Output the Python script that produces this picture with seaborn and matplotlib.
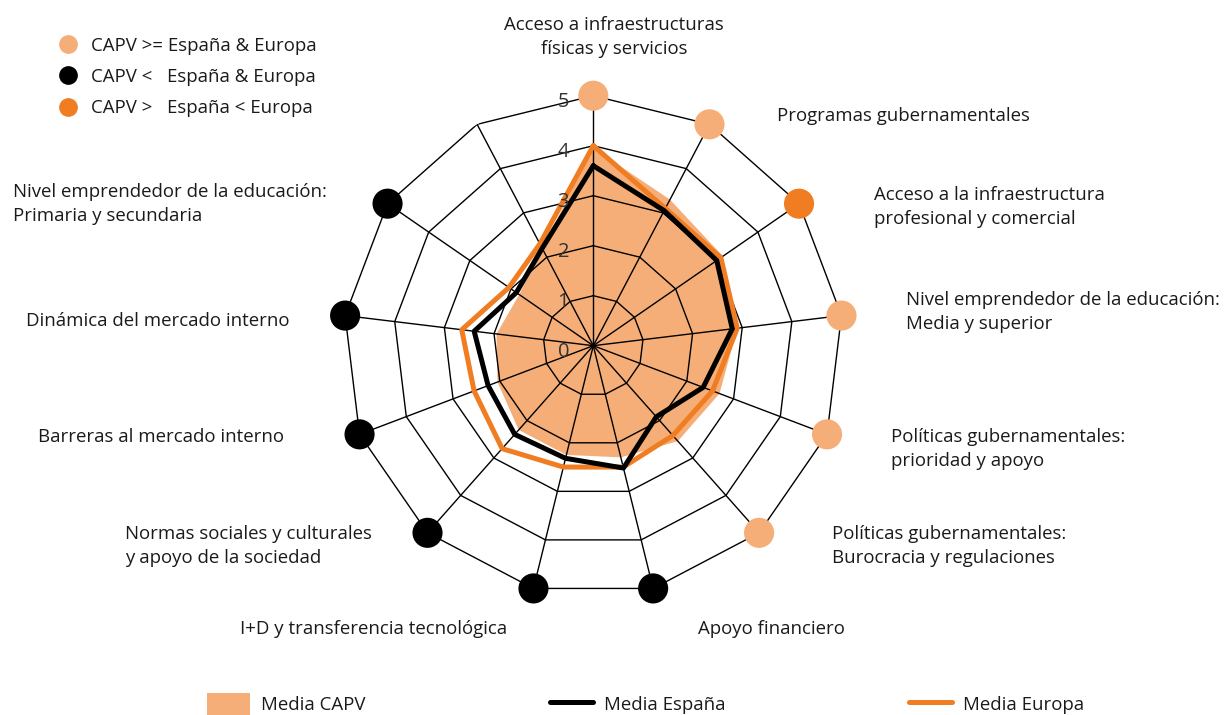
import numpy as np
import pandas as pd
import matplotlib
matplotlib.use("Agg")
import matplotlib.pyplot as plt
from matplotlib.lines import Line2D
from matplotlib.patches import Patch
import seaborn as sns

# Ejes del radar (sentido horario desde arriba); el último eje no tiene etiqueta
categorias = [
    "Acceso a infraestructuras\nfísicas y servicios",
    "Programas gubernamentales",
    "Acceso a la infraestructura\nprofesional y comercial",
    "Nivel emprendedor de la educación:\nMedia y superior",
    "Políticas gubernamentales:\nprioridad y apoyo",
    "Políticas gubernamentales:\nBurocracia y regulaciones",
    "Apoyo financiero",
    "I+D y transferencia tecnológica",
    "Normas sociales y culturales\ny apoyo de la sociedad",
    "Barreras al mercado interno",
    "Dinámica del mercado interno",
    "Nivel emprendedor de la educación:\nPrimaria y secundaria",
    "",
]
media_capv = [3.95, 3.30, 3.15, 2.90, 2.70, 2.55, 2.30, 2.25, 2.25, 2.05, 1.95, 1.80, 2.20]
media_espana = [3.60, 3.05, 3.00, 2.80, 2.35, 1.90, 2.52, 2.32, 2.37, 2.25, 2.40, 1.87, 2.20]
media_europa = [4.00, 3.10, 3.10, 2.90, 2.55, 2.40, 2.50, 2.50, 2.75, 2.55, 2.65, 2.05, 2.30]
# grupo de comparación de cada eje (marcador exterior)
grupo = ["CAPV >= España & Europa", "CAPV >= España & Europa", "CAPV >   España < Europa",
         "CAPV >= España & Europa", "CAPV >= España & Europa", "CAPV >= España & Europa",
         "CAPV <   España & Europa", "CAPV <   España & Europa", "CAPV <   España & Europa",
         "CAPV <   España & Europa", "CAPV <   España & Europa", "CAPV <   España & Europa",
         ""]
niveles = [0, 1, 2, 3, 4, 5]

C_CLARO = "#F6AE78"
C_NARANJA = "#F07D22"
colores_grupo = {
    "CAPV >= España & Europa": C_CLARO,
    "CAPV <   España & Europa": "black",
    "CAPV >   España < Europa": C_NARANJA,
}

# posición de las etiquetas (px de la figura): x, y, alineación
pos_etiquetas = [
    (614, 37, "center"), (777, 116, "left"), (874, 207, "left"), (906, 312, "left"),
    (891, 449, "left"), (832, 546, "left"), (698, 629, "left"), (507, 629, "right"),
    (125, 546, "left"), (284, 437, "right"), (290, 321, "right"), (13, 204, "left"),
]

W, H = 1224, 715
sns.set_theme(style="white")
plt.rcParams["font.family"] = ["Open Sans", "DejaVu Sans"]
TXT = "#1a1a1a"
FS = 13.4

n = len(categorias)
theta = 2 * np.pi * np.arange(n) / n
df = pd.DataFrame({
    "theta": theta, "capv": media_capv, "espana": media_espana,
    "europa": media_europa, "grupo": grupo,
})
cerrado = pd.concat([df, df.iloc[:1]], ignore_index=True)

fig = plt.figure(figsize=(W / 100, H / 100), dpi=100)
cx, cy, rad = 593.3, 345.7, 250
ax = fig.add_axes([(cx - rad) / W, (H - cy - rad) / H, 2 * rad / W, 2 * rad / H],
                  projection="polar")
ax.set_theta_offset(np.pi / 2)
ax.set_theta_direction(-1)
ax.set_ylim(0, 5)
ax.axis("off")

# Media CAPV (relleno)
ax.fill(cerrado["theta"], cerrado["capv"], color=C_CLARO, lw=0, zorder=1)

# rejilla poligonal
t_cerr = np.append(theta, theta[0])
for r in niveles[1:]:
    ax.plot(t_cerr, np.full(len(t_cerr), r), color="black", lw=1.0, zorder=2)
for t in theta:
    ax.plot([t, t], [0, 5], color="black", lw=1.0, zorder=2)

sns.lineplot(data=cerrado, x="theta", y="europa", sort=False, estimator=None,
             color=C_NARANJA, lw=3.6, ax=ax, zorder=4)
sns.lineplot(data=cerrado, x="theta", y="espana", sort=False, estimator=None,
             color="black", lw=3.6, ax=ax, zorder=5)

for r in niveles:
    ax.annotate(str(r), (0, r), xytext=(-21.6, -4.3), textcoords="offset points",
                ha="center", va="center", fontsize=14.5, color="#333333", zorder=7)

marcas = df[df["grupo"] != ""].assign(borde=5)
sns.scatterplot(data=marcas, x="theta", y="borde", hue="grupo", palette=colores_grupo,
                s=470, edgecolor="none", legend=False, ax=ax, zorder=6, clip_on=False)
ax.set_xlabel("")
ax.set_ylabel("")

for texto, (x, y, ha) in zip(categorias, pos_etiquetas):
    fig.text(x / W, 1 - y / H, texto, ha=ha, va="center", fontsize=FS,
             color=TXT, linespacing=1.4, multialignment="center" if ha == "center" else "left")

# leyenda de grupos (arriba a la izquierda)
orden = ["CAPV >= España & Europa", "CAPV <   España & Europa", "CAPV >   España < Europa"]
h_grupo = [Line2D([], [], ls="none", marker="o", ms=13.5, mfc=colores_grupo[k], mec="none")
           for k in orden]
fig.legend(h_grupo, orden, loc="center left", bbox_to_anchor=(59 / W, 1 - 77 / H),
           frameon=False, fontsize=FS, handlelength=0.95, handletextpad=0.75,
           labelspacing=0.72, borderpad=0, borderaxespad=0, labelcolor=TXT)

# leyenda de series (abajo)
h_series = [Patch(facecolor=C_CLARO, edgecolor="none"),
            Line2D([], [], color="black", lw=3.6),
            Line2D([], [], color=C_NARANJA, lw=3.6)]
fig.legend(h_series, ["Media CAPV", "Media España", "Media Europa"], loc="center left",
           bbox_to_anchor=(207 / W, 1 - 704 / H), ncol=3, frameon=False, fontsize=FS,
           handlelength=2.3, handleheight=1.4, handletextpad=0.6, columnspacing=9.9,
           borderpad=0, borderaxespad=0, labelcolor=TXT)

fig.savefig("out.png", dpi=100, facecolor="white")
